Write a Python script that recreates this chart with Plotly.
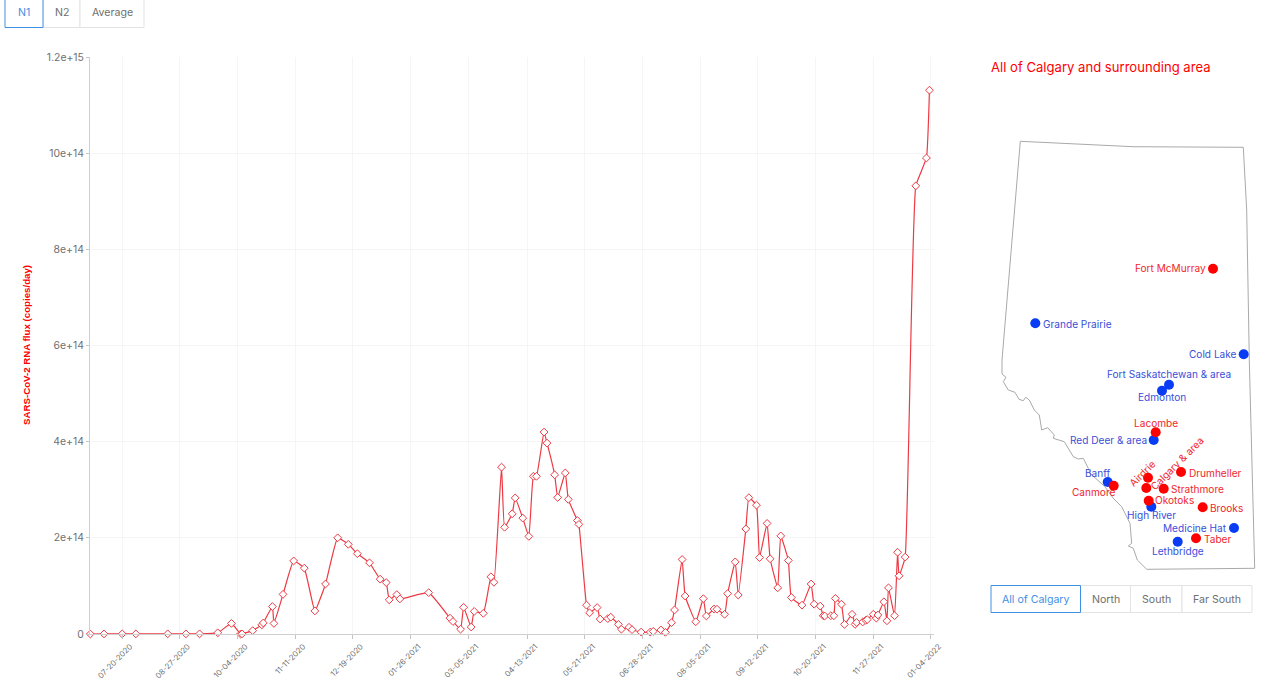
import plotly.graph_objects as go

W, H = 1280, 687
dates = ["2020-06-29","2020-07-08","2020-07-20","2020-07-29","2020-08-19","2020-08-31","2020-09-09","2020-09-21","2020-09-30","2020-10-06","2020-10-07","2020-10-14","2020-10-20","2020-10-21","2020-10-27","2020-10-28","2020-11-03","2020-11-10","2020-11-17","2020-11-24","2020-12-01","2020-12-09","2020-12-16","2020-12-22","2020-12-30","2021-01-06","2021-01-10","2021-01-12","2021-01-17","2021-01-19","2021-02-07","2021-02-21","2021-02-23","2021-02-28","2021-03-02","2021-03-07","2021-03-09","2021-03-15","2021-03-20","2021-03-22","2021-03-27","2021-03-29","2021-04-03","2021-04-05","2021-04-10","2021-04-14","2021-04-17","2021-04-19","2021-04-24","2021-04-26","2021-05-01","2021-05-03","2021-05-08","2021-05-10","2021-05-16","2021-05-17","2021-05-22","2021-05-24","2021-05-29","2021-05-31","2021-06-05","2021-06-07","2021-06-12","2021-06-14","2021-06-19","2021-06-21","2021-06-27","2021-07-03","2021-07-05","2021-07-10","2021-07-13","2021-07-17","2021-07-19","2021-07-24","2021-07-26","2021-08-02","2021-08-07","2021-08-09","2021-08-14","2021-08-16","2021-08-21","2021-08-23","2021-08-28","2021-08-30","2021-09-04","2021-09-06","2021-09-11","2021-09-13","2021-09-18","2021-09-20","2021-09-25","2021-09-27","2021-10-02","2021-10-04","2021-10-11","2021-10-17","2021-10-19","2021-10-23","2021-10-25","2021-10-26","2021-10-30","2021-11-01","2021-11-02","2021-11-06","2021-11-08","2021-11-13","2021-11-15","2021-11-16","2021-11-20","2021-11-22","2021-11-23","2021-11-27","2021-11-29","2021-11-30","2021-12-04","2021-12-06","2021-12-07","2021-12-11","2021-12-13","2021-12-14","2021-12-18","2021-12-25","2022-01-01","2022-01-03"]
flux_e13 = [0,0.01,0.02,0.02,0.03,0.02,0.03,0.25,2.2,0,0.02,0.7,1.9,2.3,5.7,2.2,8.25,15.2,13.7,4.8,10.4,20.0,18.65,16.7,14.8,11.4,10.7,7.1,8.2,7.3,8.6,3.3,2.6,1.0,5.55,1.45,4.7,4.3,11.9,10.75,34.7,22.2,25.0,28.3,24.1,20.3,32.8,32.8,42.0,39.7,33.1,28.4,33.5,28.0,23.6,22.8,6.0,4.4,5.5,3.1,3.2,3.5,2.0,1.0,1.4,0.9,0.4,0.4,0.55,0.85,0.35,2.35,5.0,15.5,7.9,2.55,7.35,3.75,5.2,5.15,4.1,8.4,15.0,8.1,21.85,28.35,26.8,15.9,23.0,15.65,9.6,20.4,15.3,7.6,6.0,10.4,6.2,5.8,3.8,3.75,3.8,3.8,7.4,6.2,2.0,4.1,2.0,2.4,2.5,2.85,3.0,4.1,3.3,3.95,6.7,2.75,9.6,3.8,17.0,12.1,16.0,93.2,99.0,113.1]
flux = [v * 1e13 for v in flux_e13]
tick_dates = ["2020-07-20","2020-08-27","2020-10-04","2020-11-11","2020-12-19","2021-01-26","2021-03-05","2021-04-13","2021-05-21","2021-06-28","2021-08-05","2021-09-12","2021-10-20","2021-11-27","2022-01-04"]
tick_labels = ["07-20-2020","08-27-2020","10-04-2020","11-11-2020","12-19-2020","01-26-2021","03-05-2021","04-13-2021","05-21-2021","06-28-2021","08-05-2021","09-12-2021","10-20-2021","11-27-2021","01-04-2022"]
y_ticks = [0,2e14,4e14,6e14,8e14,10e14,12e14]
y_labels = ["0","2e+14","4e+14","6e+14","8e+14","10e+14","1.2e+15"]

# province outline, read in picture units
outline_x = [1020.3,1133,1243.3,1246.7,1249.3,1254.7,1146.7,1137.3,1133.3,1128.3,1131.7,1130,1121.7,1113.3,1105,1090,1088.3,1083.3,1078.3,1073.3,1064.3,1053.3,1054.3,1047.7,1041.7,1039.3,1034.3,1029.3,1025.7,1023.3,1019,1015,1008.3,1003.3,1006,1002,1002,1020.3]
outline_y = [141.3,146.7,147.3,210,360,568.3,569.3,560,548.3,546,543.3,523.3,506.7,498.3,486.7,473.3,468.3,458.3,459,456.7,441.7,438.3,435,427.7,430,415,410,400,397.3,400.7,399.3,392.3,390,381.7,377.3,374,360,141.3]

red_names = ["Fort McMurray","Lacombe","Drumheller","Strathmore","Okotoks","Brooks","Taber","Canmore","Calgary & area","Airdrie"]
red_x = [1213,1155.7,1181,1163.7,1148.7,1202.7,1196,1113.7,1146.3,1148]
red_y = [268.7,432.3,472,488.7,500.7,507.3,538.3,485.7,488,477.7]
red_lx = [1208,1156,1187,1169,1153,1208,1202,1094,1177.2,1142.3]
red_ly = [268.3,423.3,472.7,489,500,508,538.7,492.3,463.3,472.7]
red_anchor = ["right","center","left","left","left","left","left","center","center","center"]
red_angle = [0,0,0,0,0,0,0,0,-45,-45]
blue_names = ["Grande Prairie","Cold Lake","Fort Saskatchewan & area","Edmonton","Red Deer & area","High River","Medicine Hat","Lethbridge","Banff"]
blue_x = [1035.3,1243.7,1169,1162,1153.7,1151.3,1234,1177.7,1107.7]
blue_y = [323.3,354.3,384.7,390.7,440,506.7,528,541.7,482]
blue_lx = [1041,1239,1169,1162.3,1149,1151,1229,1178,1098]
blue_ly = [324,354,374,397.3,439.5,514.7,527.7,550.7,473]
blue_anchor = ["left","right","center","center","right","center","right","center","center"]

RED = "#ff0000"
LINE = "#ec3a44"
BLUE = "#0a3cf5"
BLUETXT = "#3a4fd8"
REDTXT = "#f0272d"
GREY = "#6f6f6f"
FONT = "Inter, 'Noto Sans', sans-serif"
SEL = "#3f90e4"
EDGE = "#e3e3e3"
LABEL = 10.1

fig = go.Figure()
fig.add_trace(go.Scatter(x=dates, y=flux, mode="lines+markers",
    line=dict(color=LINE, width=1.2, shape="spline", smoothing=0.35),
    marker=dict(symbol="diamond", size=6, color="white", line=dict(color=LINE, width=1)),
    cliponaxis=False, showlegend=False))

fig.add_trace(go.Scatter(x=outline_x, y=outline_y, xaxis="x2", yaxis="y2", mode="lines",
    line=dict(color="#a9a9a9", width=1), showlegend=False))
fig.add_trace(go.Scatter(x=blue_x, y=blue_y, xaxis="x2", yaxis="y2",
    mode="markers", marker=dict(size=10, color=BLUE), showlegend=False))
fig.add_trace(go.Scatter(x=red_x, y=red_y, xaxis="x2", yaxis="y2",
    mode="markers", marker=dict(size=10, color=RED), showlegend=False))

def px(x): return x / W
def py(y): return 1 - y / H

shapes, annos = [], []
def button(x0, x1, y0, y1, label, selected=False):
    shapes.append(dict(type="rect", xref="paper", yref="paper", x0=px(x0), x1=px(x1), y0=py(y0), y1=py(y1),
        line=dict(color=SEL if selected else EDGE, width=1), fillcolor="white", layer="above" if selected else "below"))
    annos.append(dict(xref="paper", yref="paper", x=px((x0 + x1) / 2), y=py((y0 + y1) / 2), text=label, showarrow=False,
        font=dict(size=10.6, family=FONT, color=SEL if selected else GREY), xanchor="center", yanchor="middle"))

button(43, 80, -2, 27.5, "N2")
button(80, 144, -2, 27.5, "Average")
button(5, 43, -2, 27.5, "N1", True)
button(1080.5, 1130.5, 585.5, 612.5, "North")
button(1130.5, 1182, 585.5, 612.5, "South")
button(1182, 1252, 585.5, 612.5, "Far South")
button(991, 1080.5, 585.5, 612.5, "All of Calgary", True)

annos.append(dict(xref="paper", yref="paper", x=px(989), y=py(67), xanchor="left", yanchor="middle", showarrow=False,
    text="All of Calgary and surrounding area", font=dict(size=13.1, family=FONT, color=RED)))
annos.append(dict(xref="paper", yref="paper", x=px(27), y=py(345), xanchor="center", yanchor="middle", showarrow=False, textangle=-90,
    text="<b>SARS-CoV-2 RNA flux (copies/day)</b>", font=dict(size=9.7, family="'Liberation Sans', Arial, sans-serif", color=RED)))

def place(names, xs, ys, anchors, color, angles=None):
    for i, name in enumerate(names):
        annos.append(dict(x=xs[i], y=ys[i], xref="x2", yref="y2", text=name, showarrow=False,
            xanchor=anchors[i], yanchor="middle", textangle=angles[i] if angles else 0,
            font=dict(size=LABEL, family=FONT, color=color)))
place(blue_names, blue_lx, blue_ly, blue_anchor, BLUETXT)
place(red_names, red_lx, red_ly, red_anchor, REDTXT, red_angle)

fig.update_layout(
    width=W, height=H, margin=dict(l=0, r=0, t=0, b=0, autoexpand=False), paper_bgcolor="white", plot_bgcolor="white",
    showlegend=False, shapes=shapes, annotations=annos,
    xaxis=dict(domain=[px(90), px(934)], type="date", range=["2020-06-28 19:00", "2022-01-06"],
        tickmode="array", tickvals=tick_dates, ticktext=tick_labels, tickangle=-45,
        tickfont=dict(size=7.8, family=FONT, color=GREY), ticks="outside", ticklen=4, tickcolor="#c4c4c4",
        ticklabelshift=8,
        showline=True, linecolor="#cfcfcf", linewidth=1, showgrid=True, gridcolor="#f5f5f5", zeroline=False),
    yaxis=dict(domain=[py(634), py(57)], range=[0, 1.2e15], tickmode="array", tickvals=y_ticks, ticktext=y_labels,
        tickfont=dict(size=10.4, family=FONT, color=GREY), ticks="outside", ticklen=3, tickcolor="#c4c4c4",
        showline=True, linecolor="#cfcfcf", linewidth=1, showgrid=True, gridcolor="#f5f5f5", zeroline=False),
    xaxis2=dict(domain=[px(985), px(1270)], range=[985, 1270], visible=False, anchor="y2"),
    yaxis2=dict(domain=[py(620), py(130)], range=[620, 130], visible=False, anchor="x2"),
)
fig.write_html("out.html", config=dict(displayModeBar=False),
    post_script="document.body.style.margin='0';document.body.style.overflow='hidden';")
